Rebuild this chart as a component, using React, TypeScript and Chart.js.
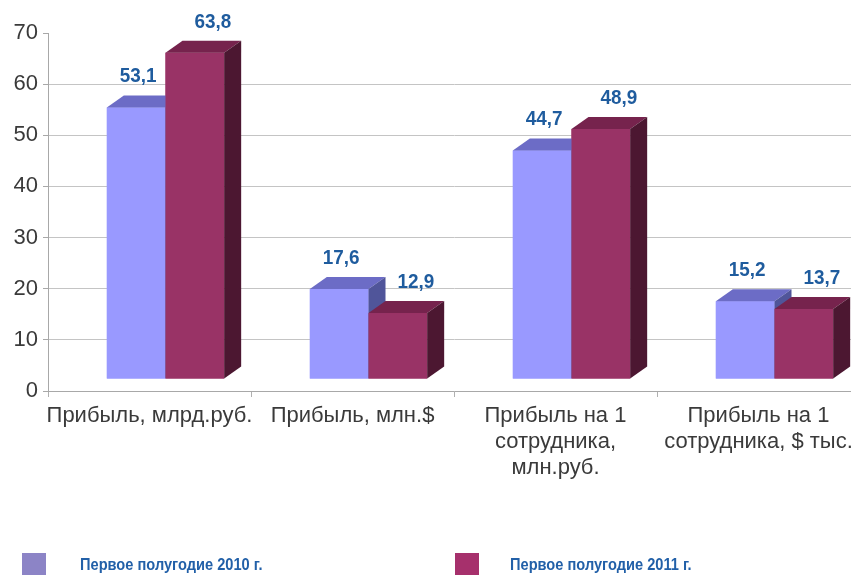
import React, { useEffect, useRef } from "react";
import { Chart, registerables } from "chart.js";

Chart.register(...registerables);

const categories: string[][] = [
  ["Прибыль, млрд.руб."],
  ["Прибыль, млн.$"],
  ["Прибыль на 1", "сотрудника,", "млн.руб."],
  ["Прибыль на 1", "сотрудника, $ тыс."],
];
const seriesNames = ["Первое полугодие 2010 г.", "Первое полугодие 2011 г."];
const values2010 = [53.1, 17.6, 44.7, 15.2];
const values2011 = [63.8, 12.9, 48.9, 13.7];
const yMin = 0;
const yMax = 70;
const yStep = 10;

const frontColors = ["#9999ff", "#993366"];
const topColors = ["#6c6cc6", "#76234d"];
const sideColors = ["#50559a", "#4c1731"];
const legendColors = ["#8c84c6", "#a6306c"];
const labelOffsets = [2, 18];

const DX = 17;
const DY = -12;

const fmt = (v: number) => v.toFixed(1).replace(".", ",");

const bars3d = {
  id: "bars3d",
  beforeDatasetsDraw(chart: any) {
    chart.ctx.save();
    chart.ctx.translate(16, -12);
  },
  afterDatasetsDraw(chart: any) {
    const ctx = chart.ctx;
    chart.data.datasets.forEach((_ds: any, di: number) => {
      const meta = chart.getDatasetMeta(di);
      meta.data.forEach((bar: any) => {
        const { x, y, base, width } = bar.getProps(["x", "y", "base", "width"], true);
        const l = x - width / 2;
        const r = x + width / 2;
        ctx.fillStyle = frontColors[di];
        ctx.fillRect(l, y, width, base - y);
        ctx.fillStyle = topColors[di];
        ctx.beginPath();
        ctx.moveTo(l, y);
        ctx.lineTo(l + DX, y + DY);
        ctx.lineTo(r + DX, y + DY);
        ctx.lineTo(r, y);
        ctx.closePath();
        ctx.fill();
        ctx.fillStyle = sideColors[di];
        ctx.beginPath();
        ctx.moveTo(r, y);
        ctx.lineTo(r + DX, y + DY);
        ctx.lineTo(r + DX, base + DY);
        ctx.lineTo(r, base);
        ctx.closePath();
        ctx.fill();
      });
    });
    ctx.restore();

    chart.data.datasets.forEach((ds: any, di: number) => {
      const meta = chart.getDatasetMeta(di);
      meta.data.forEach((bar: any, i: number) => {
        const { x, y } = bar.getProps(["x", "y"], true);
        ctx.save();
        ctx.translate(x + 16 + labelOffsets[di], y - 43);
        ctx.scale(0.9, 1);
        ctx.font = "bold 21px 'Liberation Sans', Arial, sans-serif";
        ctx.fillStyle = "#1f5c9e";
        ctx.textAlign = "center";
        ctx.textBaseline = "middle";
        ctx.fillText(fmt(ds.data[i]), 0, 0);
        ctx.restore();
      });
    });
  },
  afterDraw(chart: any) {
    const ctx = chart.ctx;
    const sq = [22, 455];
    const tx = [80, 510];
    chart.data.datasets.forEach((ds: any, di: number) => {
      ctx.save();
      ctx.fillStyle = legendColors[di];
      ctx.fillRect(sq[di], 553, 24, 30);
      ctx.translate(tx[di], 565);
      ctx.scale(0.86, 1);
      ctx.font = "bold 17px 'Liberation Sans', Arial, sans-serif";
      ctx.fillStyle = "#2260a8";
      ctx.textAlign = "left";
      ctx.textBaseline = "middle";
      ctx.fillText(ds.label, 0, 0);
      ctx.restore();
    });
  },
};

export default function App() {
  const ref = useRef<HTMLCanvasElement | null>(null);
  useEffect(() => {
    document.body.style.margin = "0";
    const canvas = ref.current;
    if (!canvas) return;
    const chart = new Chart(canvas, {
      type: "bar",
      data: {
        labels: categories,
        datasets: [
          { label: seriesNames[0], data: values2010, backgroundColor: frontColors[0] },
          { label: seriesNames[1], data: values2011, backgroundColor: frontColors[1] },
        ],
      },
      options: {
        responsive: false,
        animation: false,
        devicePixelRatio: 1,
        layout: { padding: { top: 33, left: 0, right: 0, bottom: 0 } },
        plugins: { legend: { display: false }, tooltip: { enabled: false } },
        datasets: { bar: { categoryPercentage: 0.578, barPercentage: 1, clip: false as any } },
        scales: {
          x: {
            grid: {
              display: true,
              drawOnChartArea: false,
              offset: true,
              tickLength: 6,
              color: "#b0b0b0",
            },
            border: { display: true, color: "#a8a8a8" },
            ticks: {
              color: "#3a3a3a",
              font: { family: "'Liberation Sans', Arial, sans-serif", size: 22, lineHeight: 1.18 },
              padding: 6,
              maxRotation: 0,
              autoSkip: false,
            },
            afterFit(scale: any) {
              scale.height = 184;
            },
          },
          y: {
            min: yMin,
            max: yMax,
            ticks: {
              stepSize: yStep,
              color: "#3a3a3a",
              font: { family: "'Liberation Sans', Arial, sans-serif", size: 22 },
              padding: 5,
            },
            grid: {
              color: (c: any) => (c.tick && c.tick.value === yMax ? "rgba(0,0,0,0)" : "#c4c4c4"),
              tickColor: "#a8a8a8",
              tickLength: 5,
            },
            border: { display: true, color: "#a8a8a8" },
            afterFit(scale: any) {
              scale.width = 48;
            },
          },
        },
      },
      plugins: [bars3d],
    });
    return () => chart.destroy();
  }, []);
  return (
    <div style={{ width: 851, height: 575, overflow: "hidden", position: "relative", background: "#fff" }}>
      <canvas ref={ref} width={860} height={575} style={{ display: "block", width: 860, height: 575 }} />
    </div>
  );
}
